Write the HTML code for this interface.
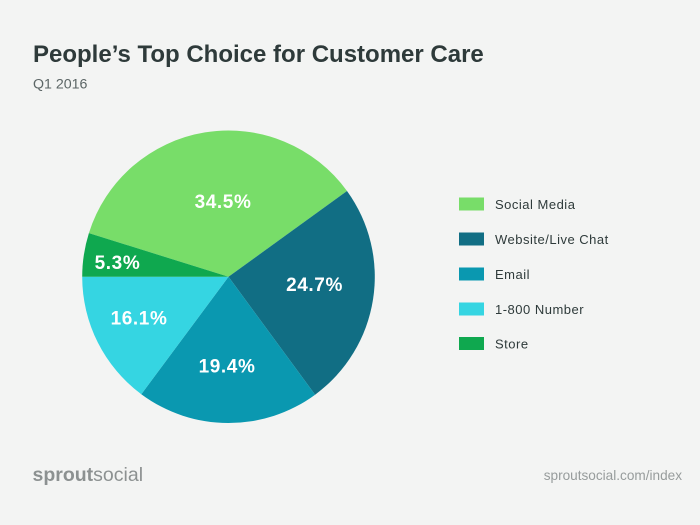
<!DOCTYPE html>
<html><head><meta charset="utf-8"><style>
html,body{margin:0;padding:0;background:#f3f4f3;}
svg{display:block;}
</style></head><body>
<svg width="700" height="525" viewBox="0 0 700 525" xmlns="http://www.w3.org/2000/svg" font-family="'Liberation Sans', sans-serif">
<rect width="700" height="525" fill="#f3f4f3"/>
<text x="33" y="62" font-size="24" font-weight="bold" fill="#2e3a3a">People’s Top Choice for Customer Care</text>
<text x="33" y="88.5" font-size="14.2" fill="#5b6565">Q1 2016</text>

<g stroke="none">
<path d="M228.5,276.8 L88.9,233.1 A146.3,146.3 0 0 1 347.0,191.0 Z" fill="#78dd69"/>
<path d="M228.5,276.8 L347.0,191.0 A146.3,146.3 0 0 1 315.1,394.7 Z" fill="#116e84"/>
<path d="M228.5,276.8 L315.1,394.7 A146.3,146.3 0 0 1 141.3,394.2 Z" fill="#0a98b0"/>
<path d="M228.5,276.8 L141.3,394.2 A146.3,146.3 0 0 1 82.2,276.8 Z" fill="#35d5e2"/>
<path d="M228.5,276.8 L82.2,276.8 A146.3,146.3 0 0 1 88.9,233.1 Z" fill="#0fa84f"/>
</g>
<g fill="#ffffff" font-size="19" font-weight="bold" text-anchor="middle" letter-spacing="0.6">
<text x="223" y="208">34.5%</text>
<text x="314.5" y="291">24.7%</text>
<text x="117.5" y="269">5.3%</text>
<text x="139" y="324.5">16.1%</text>
<text x="227" y="372.5">19.4%</text>
</g>

<g>
<rect x="459" y="197.5" width="25" height="13" fill="#78dd69"/>
<rect x="459" y="232.5" width="25" height="13" fill="#116e84"/>
<rect x="459" y="267.5" width="25" height="13" fill="#0a98b0"/>
<rect x="459" y="302.5" width="25" height="13" fill="#35d5e2"/>
<rect x="459" y="337" width="25" height="13" fill="#0fa84f"/>
</g>
<g fill="#2e3a3a" font-size="13" letter-spacing="0.5">
<text x="495" y="209">Social Media</text>
<text x="495" y="244">Website/Live Chat</text>
<text x="495" y="279">Email</text>
<text x="495" y="314">1-800 Number</text>
<text x="495" y="348.5">Store</text>
</g>

<text x="32.5" y="481" font-size="19.5" fill="#8c9191"><tspan font-weight="bold">sprout</tspan><tspan>social</tspan></text>
<text x="682" y="480" font-size="13.6" fill="#979c9c" text-anchor="end">sproutsocial.com/index</text>
</svg>
</body></html>
